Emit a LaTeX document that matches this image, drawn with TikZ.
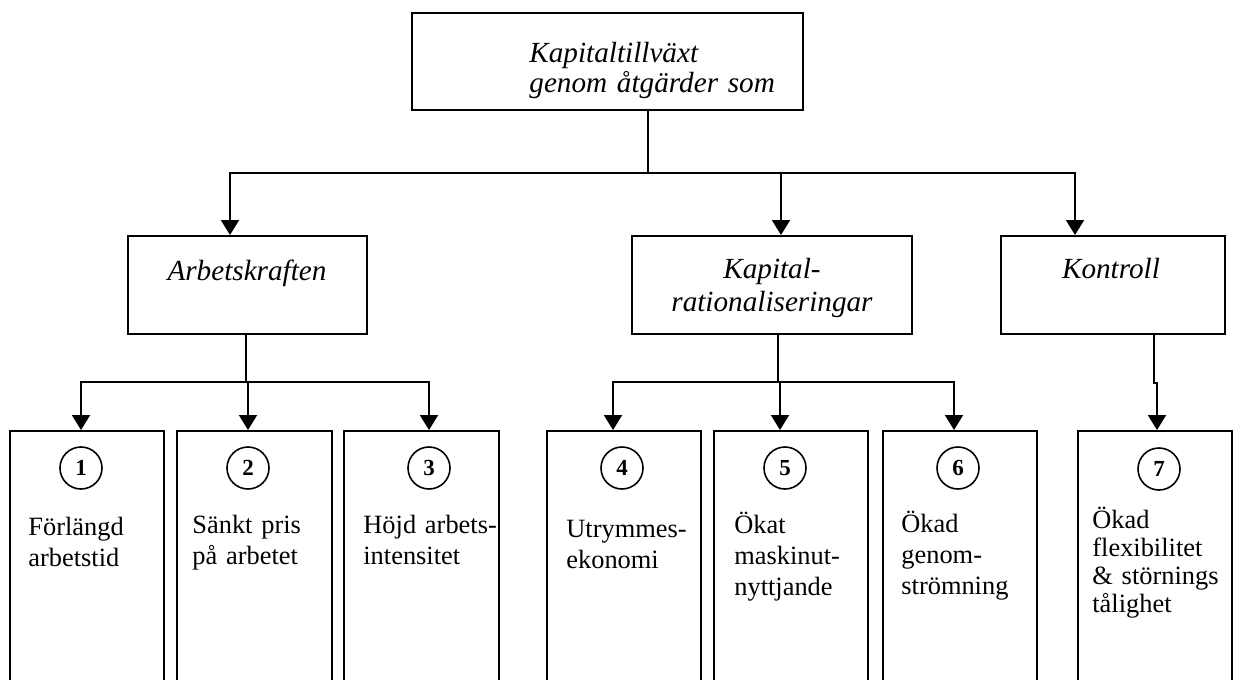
\documentclass[tikz,border=0pt]{standalone}
\usepackage{fontspec}
\setmainfont{Liberation Serif}
\usetikzlibrary{arrows.meta}

\tikzset{
  box/.style={draw, line width=1pt, rectangle, inner sep=0pt},
  conn/.style={line width=1pt},
  arr/.style={conn, -{Triangle[length=7.5pt,width=9pt]}},
  num/.style={draw, circle, line width=0.8pt, minimum size=21pt, inner sep=0pt,
              font=\fontsize{11.5pt}{13pt}\selectfont\bfseries},
  itext/.style={inner sep=0pt, text width=140pt, font=\fontsize{14.6pt}{15pt}\selectfont\itshape},
  rtext/.style={inner sep=0pt, anchor=base west, text width=70pt, align=left,
                font=\fontsize{13.2pt}{15.5pt}\selectfont},
}

\begin{document}
\begin{tikzpicture}[x=0.5pt,y=-0.5pt]
\useasboundingbox (0,0) rectangle (1233,680);
\clip (0,0) rectangle (1233,680);

% top level
\node[box, minimum width=195.5pt, minimum height=48.5pt] (top) at (607.5,61.5) {};
\node[itext, anchor=base west, align=left] (ttop) at (529,62)
  {Kapitaltillväxt\\genom åtgärder som};

% second level
\node[box, minimum width=119.5pt, minimum height=49pt] (ak) at (247.5,285) {};
\node[box, minimum width=140pt, minimum height=49pt] (kr) at (772,285) {};
\node[box, minimum width=112pt, minimum height=49pt] (ko) at (1113,285) {};
\node[itext, anchor=base, align=center] (tak) at (247,280) {Arbetskraften};
\node[itext, anchor=base, align=center, font=\fontsize{14.6pt}{17pt}\selectfont\itshape]
  (tkr) at (772,278) {Kapital-\\rationaliseringar};
\node[itext, anchor=base, align=center] (tko) at (1111,278) {Kontroll};

% third level (boxes run off the bottom edge)
\foreach \n/\cx/\w in {1/87/77, 2/254.5/77.5, 3/421.5/77.5, 4/624/77, 5/791/77, 6/960/77, 7/1155/77}
  \node[box, minimum width=\w pt, minimum height=127.5pt] (b\n) at (\cx,558.5) {};

\node[num] (c1) at (81,468) {1};
\node[num] (c2) at (248,468) {2};
\node[num] (c3) at (429,468) {3};
\node[num] (c4) at (622,468) {4};
\node[num] (c5) at (785,468) {5};
\node[num] (c6) at (958,468) {6};
\node[num] (c7) at (1159,469) {7};

\node[rtext] (t1) at (28,535) {Förlängd\\arbetstid};
\node[rtext] (t2) at (192,533) {Sänkt pris\\på arbetet};
\node[rtext] (t3) at (363,533) {Höjd arbets-\\intensitet};
\node[rtext] (t4) at (566,537) {Utrymmes-\\ekonomi};
\node[rtext] (t5) at (734,533) {Ökat\\maskinut-\\nyttjande};
\node[rtext] (t6) at (901,532) {Ökad\\genom-\\strömning};
\node[rtext, font=\fontsize{13.2pt}{14pt}\selectfont] (t7) at (1092,528)
  {Ökad\\flexibilitet\\\& störnings\\tålighet};

% connectors
\coordinate (j0) at (648,173);
\draw[conn] ([xshift=20.25pt]top.south) -- (j0);
\draw[arr] (j0) -| ([xshift=-8.75pt]ak.north);
\draw[arr] (j0) -| ([xshift=4.5pt]kr.north);
\draw[arr] (j0) -| ([xshift=-19pt]ko.north);

\coordinate (j1) at (246,382);
\draw[conn] (ak.south -| j1) -- (j1);
\draw[arr] (j1) -| ([xshift=-3pt]b1.north);
\draw[arr] (j1) -| ([xshift=-3.25pt]b2.north);
\draw[arr] (j1) -| ([xshift=3.75pt]b3.north);

\coordinate (j2) at (778,382);
\draw[conn] (kr.south -| j2) -- (j2);
\draw[arr] (j2) -| ([xshift=-5.5pt]b4.north);
\draw[arr] (j2) -| ([xshift=-5.5pt]b5.north);
\draw[arr] (j2) -| ([xshift=-3pt]b6.north);

\draw[arr] ([xshift=20.5pt]ko.south) -- ++(0,48) -- ++(3,0) -- ([xshift=1pt]b7.north);
\end{tikzpicture}
\end{document}
